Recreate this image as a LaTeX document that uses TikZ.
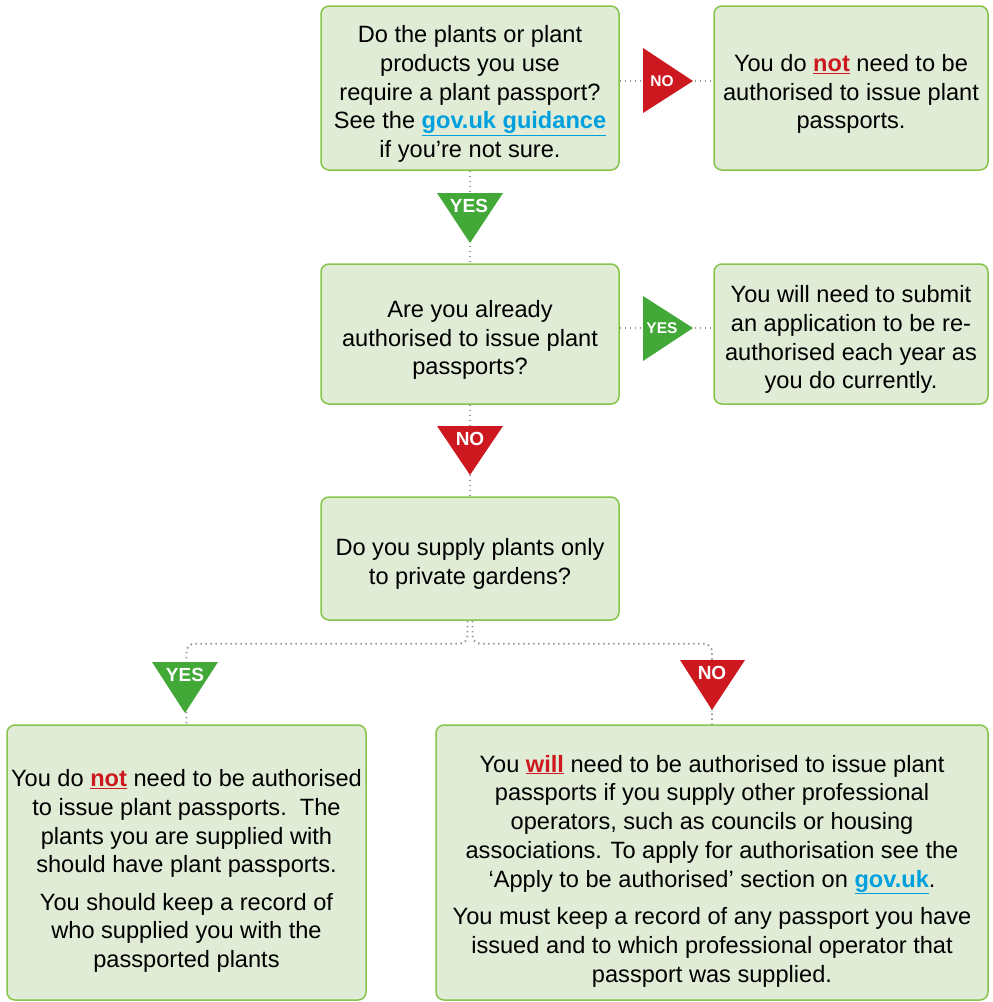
\documentclass[tikz,border=0pt]{standalone}
\usepackage{fontspec}
\setmainfont{Liberation Sans}
\definecolor{boxfill}{RGB}{224,236,214}
\definecolor{boxline}{RGB}{134,196,74}
\definecolor{nored}{RGB}{206,24,32}
\definecolor{yesgreen}{RGB}{66,168,56}
\definecolor{linkblue}{RGB}{0,160,223}
\definecolor{dotgrey}{RGB}{150,150,150}
\newcommand{\warnword}[1]{\textcolor{nored}{\underline{\textbf{#1}}}}
\newcommand{\linkword}[1]{\textcolor{linkblue}{\underline{\textbf{#1}}}}

\begin{document}
\begin{tikzpicture}[x=1pt,y=-1pt,
  box/.style={draw=boxline,fill=boxfill,line width=1.5pt,rounded corners=8pt,inner sep=0pt},
  boxtext/.style={align=center,inner sep=0pt,font=\fontsize{23.6}{28.8}\selectfont},
  conn/.style={draw=dotgrey,line width=1.8pt,dash pattern=on 1.6pt off 3.4pt},
  bigtag/.style={text=white,font=\fontsize{19}{19}\selectfont\bfseries},
  smalltag/.style={text=white,font=\fontsize{15.5}{15.5}\selectfont\bfseries}]
\useasboundingbox (0,0) rectangle (993,1002);

% question boxes
\node [box,minimum width=298,minimum height=164] (q1) at (470,88) {};
\node [boxtext] (q1text) at ([yshift=-6pt]q1.center)
  {Do the plants or plant\\products you use\\require a plant passport?\\See the \linkword{gov.uk guidance}\\if you’re not sure.};
\node [box,minimum width=274,minimum height=164] (q2) at (851,88) {};
\node [boxtext] (q2text) at ([yshift=-6pt]q2.center)
  {You do \warnword{not} need to be\\authorised to issue plant\\passports.};
\node [box,minimum width=298,minimum height=140] (q3) at (470,334) {};
\node [boxtext] (q3text) at ([yshift=-6pt]q3.center)
  {Are you already\\authorised to issue plant\\passports?};
\node [box,minimum width=274,minimum height=140] (q4) at (851,334) {};
\node [boxtext] (q4text) at ([yshift=-5.5pt]q4.center)
  {You will need to submit\\an application to be re-\\authorised each year as\\you do currently.};
\node [box,minimum width=298,minimum height=123] (q5) at (470,558.5) {};
\node [boxtext] (q5text) at ([yshift=-5.5pt]q5.center)
  {Do you supply plants only\\to private gardens?};

% answer boxes
\node [box,minimum width=359,minimum height=275] (a1) at (186.5,862.5) {};
\node [boxtext] (a1text) at ([yshift=-8.5pt]a1.center)
  {You do \warnword{not} need to be authorised\\to issue plant passports.\ \ The\\plants you are supplied with\\should have plant passports.\\[8.5pt]You should keep a record of\\who supplied you with the\\passported plants};
\node [box,minimum width=552,minimum height=275] (a2) at (712,862.5) {};
\node [boxtext] (a2text) at ([yshift=-8.5pt]a2.center)
  {You \warnword{will} need to be authorised to issue plant\\passports if you supply other professional\\operators, such as councils or housing\\associations. To apply for authorisation see the\\‘Apply to be authorised’ section on \linkword{gov.uk}.\\[8.5pt]You must keep a record of any passport you have\\issued and to which professional operator that\\passport was supplied.};

% connectors
\draw [conn] (q1.east |- 0,81) -- (q2.west |- 0,81);
\draw [conn] (q1.south) -- (q3.north);
\draw [conn] (q3.east |- 0,328) -- (q4.west |- 0,328);
\draw [conn] (q3.south) -- (q5.north);
\draw [conn,rounded corners=8pt] ([xshift=-2.5]q5.south) -- ++(0,23) -| (a1.north);
\draw [conn,rounded corners=8pt] ([xshift=2.5]q5.south) -- ++(0,23) -| (a2.north);

% answer markers
\fill [nored] (643,48) -- (693,81) -- (643,113) -- cycle;
\node [smalltag] (t1) at (662,81) {NO};
\fill [yesgreen] (437,193) -- (503,193) -- (470,243) -- cycle;
\node [bigtag] (t2) at (469,206) {YES};
\fill [yesgreen] (643,296) -- (693,328) -- (643,361) -- cycle;
\node [smalltag] (t3) at (662,328) {YES};
\fill [nored] (437,426) -- (503,426) -- (470,475) -- cycle;
\node [bigtag] (t4) at (470,439) {NO};
\fill [yesgreen] (152,662) -- (218,662) -- (185,713) -- cycle;
\node [bigtag] (t5) at (185,675) {YES};
\fill [nored] (680,660) -- (745,660) -- (712,710) -- cycle;
\node [bigtag] (t6) at (712,673) {NO};
\end{tikzpicture}
\end{document}
